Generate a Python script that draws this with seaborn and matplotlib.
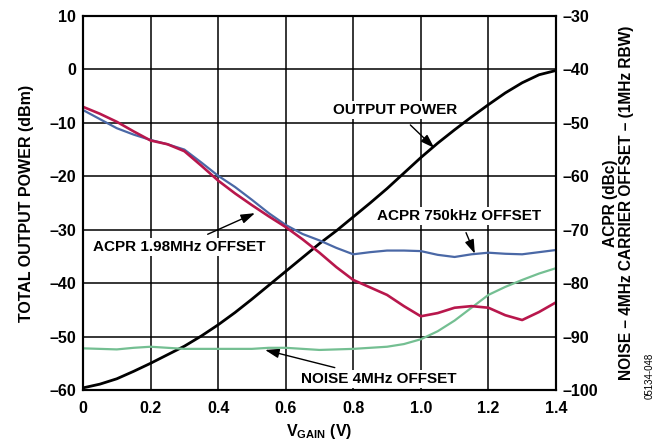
import numpy as np
import pandas as pd
import matplotlib
matplotlib.use("Agg")
import matplotlib.pyplot as plt
import seaborn as sns

# gain control voltage (V)
vgain = [0.00, 0.05, 0.10, 0.15, 0.20, 0.25, 0.30, 0.35, 0.40, 0.45,
         0.50, 0.55, 0.60, 0.65, 0.70, 0.75, 0.80, 0.85, 0.90, 0.95,
         1.00, 1.05, 1.10, 1.15, 1.20, 1.25, 1.30, 1.35, 1.40]

# total output power (dBm), left axis
output_power = [-59.6, -58.9, -57.9, -56.5, -55.0, -53.4, -51.8, -49.9, -47.8, -45.5,
                -43.0, -40.4, -37.8, -35.2, -32.6, -30.2, -27.6, -25.0, -22.3, -19.4,
                -16.5, -13.8, -11.3, -8.9, -6.6, -4.4, -2.5, -1.0, -0.2]

# ACPR / noise (dBc), right axis
acpr_750k = [-47.6, -49.3, -51.0, -52.2, -53.2, -54.0, -55.0, -57.4, -59.9, -62.0,
             -64.4, -66.9, -69.1, -70.8, -72.0, -73.4, -74.6, -74.2, -73.9, -73.9,
             -74.0, -74.7, -75.1, -74.6, -74.3, -74.5, -74.6, -74.2, -73.8]
acpr_198m = [-47.0, -48.3, -49.8, -51.6, -53.3, -54.0, -55.3, -58.0, -60.8, -63.2,
             -65.4, -67.5, -69.5, -71.8, -74.3, -77.0, -79.4, -80.8, -82.2, -84.3,
             -86.2, -85.6, -84.6, -84.3, -84.6, -86.0, -86.9, -85.4, -83.6]
noise_4m = [-92.2, -92.3, -92.4, -92.1, -91.9, -92.1, -92.3, -92.3, -92.3, -92.3,
            -92.3, -92.1, -92.1, -92.3, -92.5, -92.4, -92.3, -92.1, -91.9, -91.4,
            -90.5, -89.0, -87.0, -84.6, -82.2, -80.7, -79.4, -78.2, -77.2]

sns.set_style("white")
plt.rcParams['font.family'] = ['Liberation Sans', 'DejaVu Sans']
plt.rcParams['font.weight'] = 'bold'
plt.rcParams['text.color'] = 'black'
plt.rcParams['axes.labelcolor'] = 'black'
plt.rcParams['xtick.color'] = 'black'
plt.rcParams['ytick.color'] = 'black'
plt.rcParams['lines.solid_joinstyle'] = 'round'
plt.rcParams['mathtext.fontset'] = 'custom'
plt.rcParams['mathtext.rm'] = 'Liberation Sans:bold'
plt.rcParams['mathtext.bf'] = 'Liberation Sans:bold'

df = pd.DataFrame({'vgain': vgain, 'power': output_power,
                   'acpr750': acpr_750k, 'acpr198': acpr_198m, 'noise': noise_4m})

fig, ax = plt.subplots(figsize=(6.65, 4.43), dpi=100)
fig.subplots_adjust(left=0.1248, right=0.836, top=0.9639, bottom=0.1196)
ax2 = ax.twinx()

sns.lineplot(data=df, x='vgain', y='power', ax=ax, color='black', lw=2.0, zorder=4)
sns.lineplot(data=df, x='vgain', y='noise', ax=ax2, color='#74bf92', lw=1.6)
sns.lineplot(data=df, x='vgain', y='acpr750', ax=ax2, color='#4a68a6', lw=1.6)
sns.lineplot(data=df, x='vgain', y='acpr198', ax=ax2, color='#b8174c', lw=1.9)

ax.set_xlim(0, 1.4)
ax.set_ylim(-60, 10)
ax2.set_ylim(-100, -30)
ax.set_xticks(np.arange(0, 1.41, 0.2))
ax.set_xticklabels(['0', '0.2', '0.4', '0.6', '0.8', '1.0', '1.2', '1.4'])
ax.set_yticks(np.arange(-60, 11, 10))
ax.set_yticklabels([str(v).replace('-', '\u2013') for v in range(-60, 11, 10)])
ax2.set_yticks(np.arange(-100, -29, 10))
ax2.set_yticklabels([str(v).replace('-', '\u2013') for v in range(-100, -29, 10)])

ax.grid(True, color='black', lw=1.1)
ax.set_axisbelow(True)
for a in (ax, ax2):
    a.tick_params(length=0, labelsize=11.5, pad=5)
    for s in a.spines.values():
        s.set_color('black')
        s.set_linewidth(1.5)
ax.tick_params(axis='x', pad=8)

ax.set_xlabel(r'$\mathbf{V_{GAIN}}$ (V)', fontsize=11.5, fontweight='bold', labelpad=4)
ax.set_ylabel('TOTAL OUTPUT POWER (dBm)', fontsize=11.5, fontweight='bold', labelpad=11)
ax2.set_ylabel('ACPR (dBc)\nNOISE \u2013 4MHz CARRIER OFFSET \u2013 (1MHz RBW)',
               fontsize=11.2, fontweight='bold', labelpad=3, linespacing=1.15)

box = dict(facecolor='white', edgecolor='none', pad=1.5)
arrow = dict(arrowstyle='-|>,head_length=0.6,head_width=0.2', color='black', lw=1.0,
             mutation_scale=14, shrinkA=6, shrinkB=0)
ax.annotate('OUTPUT POWER', xy=(1.04, -14.7), xytext=(0.923, -7.6),
            ha='center', va='center', fontsize=11, fontweight='bold',
            bbox=box, arrowprops=arrow)
ax.annotate('ACPR 750kHz OFFSET', xy=(1.16, -34.5), xytext=(1.113, -27.4),
            ha='center', va='center', fontsize=11, fontweight='bold',
            bbox=box, arrowprops=arrow)
ax.annotate('ACPR 1.98MHz OFFSET', xy=(0.509, -26.9), xytext=(0.286, -33.2),
            ha='center', va='center', fontsize=11, fontweight='bold',
            bbox=box, arrowprops=arrow)
ax.annotate('NOISE 4MHz OFFSET', xy=(0.539, -52.5), xytext=(0.876, -57.9),
            ha='center', va='center', fontsize=11, fontweight='bold',
            bbox=box, arrowprops=arrow)

fig.text(0.977, 0.10, '05134-048', rotation=90, fontsize=7, fontweight='normal',
         ha='center', va='bottom')

fig.savefig('out.png', dpi=100)
